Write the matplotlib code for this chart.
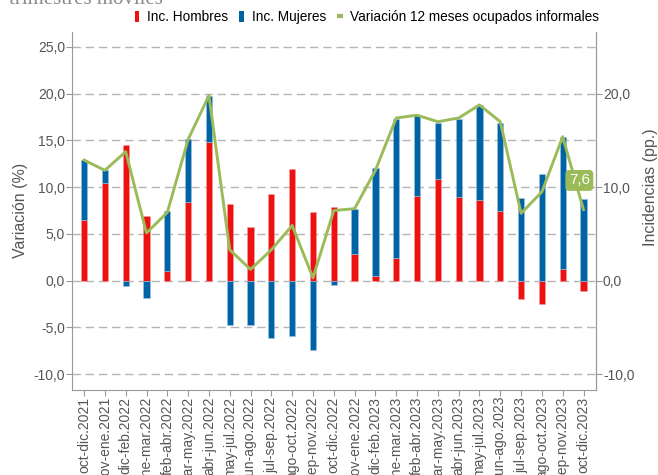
import matplotlib
matplotlib.use("Agg")
import matplotlib.pyplot as plt
import numpy as np
from matplotlib.patches import Patch
from matplotlib.lines import Line2D
from matplotlib.ticker import FuncFormatter

plt.rcParams['font.family'] = ['Liberation Sans', 'DejaVu Sans']

categories = ["oct-dic.2021", "nov-ene.2021", "dic-feb.2022", "ene-mar.2022", "feb-abr.2022",
              "mar-may.2022", "abr-jun.2022", "may-jul.2022", "jun-ago.2022", "jul-sep.2022",
              "ago-oct.2022", "sep-nov.2022", "oct-dic.2022", "nov-ene.2022", "dic-feb.2023",
              "ene-mar.2023", "feb-abr.2023", "mar-may.2023", "abr-jun.2023", "may-jul.2023",
              "jun-ago.2023", "jul-sep.2023", "ago-oct.2023", "sep-nov.2023", "oct-dic.2023"]

inc_hombres = [6.5, 10.4, 14.5, 6.9, 1.0, 8.4, 14.8, 8.2, 5.7, 9.3, 11.9, 7.3, 7.9,
               2.8, 0.5, 2.4, 9.1, 10.9, 9.0, 8.6, 7.45, -2.0, -2.5, 1.2, -1.1]
inc_mujeres = [6.4, 1.4, -0.6, -1.9, 6.4, 6.7, 4.9, -4.7, -4.7, -6.1, -5.9, -7.4, -0.5,
               4.9, 11.6, 14.9, 8.6, 6.0, 8.3, 10.15, 9.45, 8.8, 11.4, 14.2, 8.7]
variacion = [12.9, 11.8, 13.8, 5.1, 7.3, 15.1, 19.8, 3.3, 1.2, 3.3, 5.9, 0.3, 7.5,
             7.7, 11.8, 17.4, 17.7, 17.0, 17.4, 18.8, 17.0, 7.2, 9.5, 15.4, 7.6]

RED = '#EE1111'
BLUE = '#0063A6'
GREEN = '#9BBB59'
TXT = '#555555'
SPINE = '#999999'

fig = plt.figure(figsize=(6.58, 4.75), dpi=100)
ax = fig.add_axes([72/658, 1-390/475, (596-72)/658, (390-32)/475])

x = np.arange(len(categories))
h = np.array(inc_hombres)
m = np.array(inc_mujeres)
w = 0.3

h_bottom = np.zeros_like(h)
m_bottom = np.where((m >= 0) & (h >= 0), h, np.where((m < 0) & (h < 0), h, 0.0))

ax.bar(x, h, w, bottom=h_bottom, color=RED, edgecolor='#f7a0a0', linewidth=0.4, zorder=3)
ax.bar(x, m, w, bottom=m_bottom, color=BLUE, edgecolor='#9cc3e0', linewidth=0.4, zorder=3)
ax.plot(x, variacion, color=GREEN, lw=2.1, zorder=4)

ax.set_xlim(-0.58, 24.6)
ax.set_ylim(-11.7, 26.6)
ax.set_yticks([-10, -5, 0, 5, 10, 15, 20, 25])
fmt = FuncFormatter(lambda v, p: f"{v:.1f}".replace('.', ','))
ax.yaxis.set_major_formatter(fmt)
ax.grid(axis='y', color='#b5b5b5', linestyle=(0, (6, 3.5)), linewidth=1.0, zorder=0)
ax.set_xticks(x)
ax.set_xticklabels(categories, rotation=90, fontsize=10, color=TXT)
ax.tick_params(axis='y', labelsize=10, labelcolor=TXT, color=SPINE, length=4, pad=1)
ax.tick_params(axis='x', color=SPINE, length=4, pad=1)

ax.spines['top'].set_visible(False)
for s in ['left', 'bottom', 'right']:
    ax.spines[s].set_color(SPINE)

ax2 = ax.twinx()
ax2.set_ylim(ax.get_ylim())
ax2.set_yticks([-10, 0, 10, 20])
ax2.yaxis.set_major_formatter(fmt)
ax2.tick_params(axis='y', labelsize=10, labelcolor=TXT, color=SPINE, length=4, pad=1)
ax2.spines['top'].set_visible(False)
ax2.spines['left'].set_visible(False)
ax2.spines['bottom'].set_visible(False)
ax2.spines['right'].set_color(SPINE)

ax.annotate(f"{variacion[-1]:.1f}".replace('.', ','), xy=(x[-1], variacion[-1]),
            xytext=(-3, 21), textcoords='offset points', ha='center', va='center',
            fontsize=11, color='white', zorder=6,
            bbox=dict(boxstyle='round,pad=0.18,rounding_size=0.2', fc=GREEN, ec=GREEN))

fig.text(21/658, 1-210/475, "Variación (%)", rotation=90, ha='center', va='center',
         fontsize=11.5, color=TXT)
fig.text(651/658, 1-187/475, "Incidencias (pp.)", rotation=90, ha='center', va='center',
         fontsize=11.5, color=TXT)

fig.text(9/658, 1-4/475, "trimestres móviles", ha='left', va='baseline',
         fontsize=15, color='#8a8a8a', family=['Liberation Serif', 'DejaVu Serif'])

handles = [Patch(facecolor=RED, edgecolor='none'),
           Patch(facecolor=BLUE, edgecolor='none'),
           Line2D([], [], color=GREEN, marker='_', linestyle='none', markersize=5, markeredgewidth=3)]
labels = ["Inc. Hombres", "Inc. Mujeres", "Variación 12 meses ocupados informales"]
fig.legend(handles, labels, loc='center', bbox_to_anchor=(367/658, 1-17/475), ncol=3,
           frameon=False, fontsize=9.8, handlelength=0.35, handleheight=0.85,
           handletextpad=0.6, columnspacing=0.8, borderaxespad=0, borderpad=0)

fig.savefig("out.png", dpi=100)
